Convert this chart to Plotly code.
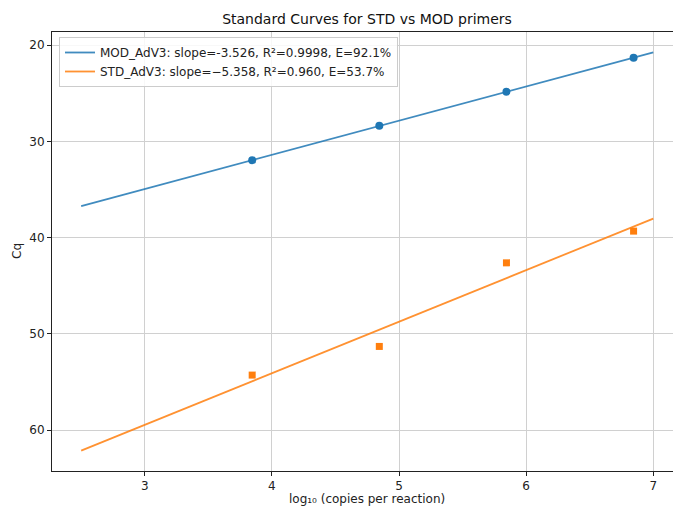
import numpy as np
import plotly.graph_objects as go

# Data
log_copies = [3.845, 4.845, 5.845, 6.845]
mod_cq = [31.96, 28.36, 24.83, 21.30]
std_cq = [54.29, 51.31, 42.62, 39.32]
fit_x = [2.5, 7.0]
mod_label = "MOD_AdV3: slope=-3.526, R²=0.9998, E=92.1%"
std_label = "STD_AdV3: slope=\u22125.358, R²=0.960, E=53.7%"
y_ticks = [20, 30, 40, 50, 60]
x_ticks = [3, 4, 5, 6, 7]

BLUE = "#1f77b4"
ORANGE = "#ff7f0e"
FONT = "DejaVu Sans"
W, H = 673, 506
L, T, B, R = 52, 32, 35, 0
PW, PH = W - L - R, H - T - B

def fit_line(x, y, xs):
    m, b = np.polyfit(x, y, 1)
    return [m * v + b for v in xs]

fig = go.Figure()
fig.add_trace(go.Scatter(x=fit_x, y=fit_line(log_copies, mod_cq, fit_x), mode="lines",
                         line=dict(color=BLUE, width=1.8), opacity=0.85, name=mod_label))
fig.add_trace(go.Scatter(x=fit_x, y=fit_line(log_copies, std_cq, fit_x), mode="lines",
                         line=dict(color=ORANGE, width=1.8), opacity=0.85, name=std_label))
fig.add_trace(go.Scatter(x=log_copies, y=mod_cq, mode="markers",
                         marker=dict(color=BLUE, size=8, symbol="circle"), showlegend=False))
fig.add_trace(go.Scatter(x=log_copies, y=std_cq, mode="markers",
                         marker=dict(color=ORANGE, size=7, symbol="square"), showlegend=False))

fig.update_layout(
    width=W, height=H,
    margin=dict(l=L, r=R, t=T, b=B, pad=0, autoexpand=False),
    paper_bgcolor="white", plot_bgcolor="white",
    font=dict(family=FONT, size=12, color="#222"),
    title=dict(text="Standard Curves for STD vs MOD primers", x=367 / W, xref="container",
               xanchor="center", y=1 - 19 / H, yanchor="middle",
               font=dict(size=14, color="#111")),
    legend=dict(x=(59 - L) / PW, y=1 - (37 - T) / PH, xanchor="left", yanchor="top",
                bgcolor="rgba(255,255,255,0.85)", bordercolor="#cccccc", borderwidth=1,
                font=dict(size=12, color="#222"), tracegroupgap=0),
    showlegend=True,
    annotations=[
        dict(text="log₁₀ (copies per reaction)", xref="paper", yref="paper",
             x=(367 - L) / PW, y=-(499 - (H - B)) / PH,
             xanchor="center", yanchor="middle", showarrow=False,
             font=dict(size=12, color="#222")),
        dict(text="Cq", xref="paper", yref="paper",
             x=-(L - 17) / PW, y=((H - B) - 251) / PH,
             xanchor="center", yanchor="middle", showarrow=False, textangle=-90,
             font=dict(size=12, color="#222")),
    ],
)
fig.update_xaxes(range=[2.2705, 7.155], tickvals=x_ticks, showgrid=True, gridcolor="#d0d0d0",
                 gridwidth=1.2, zeroline=False, showline=True, linecolor="#222", linewidth=1,
                 mirror=True, ticks="outside", ticklen=4, tickcolor="#222", automargin=False)
fig.update_yaxes(range=[64.26, 18.62], tickvals=y_ticks, showgrid=True, gridcolor="#d0d0d0",
                 gridwidth=1.2, zeroline=False, showline=True, linecolor="#222", linewidth=1,
                 mirror=False, ticks="outside", ticklen=4, tickcolor="#222", automargin=False)

fig.write_html("out.html", config={"displayModeBar": False},
               post_script="document.body.style.margin='0';document.body.style.overflow='hidden';")
